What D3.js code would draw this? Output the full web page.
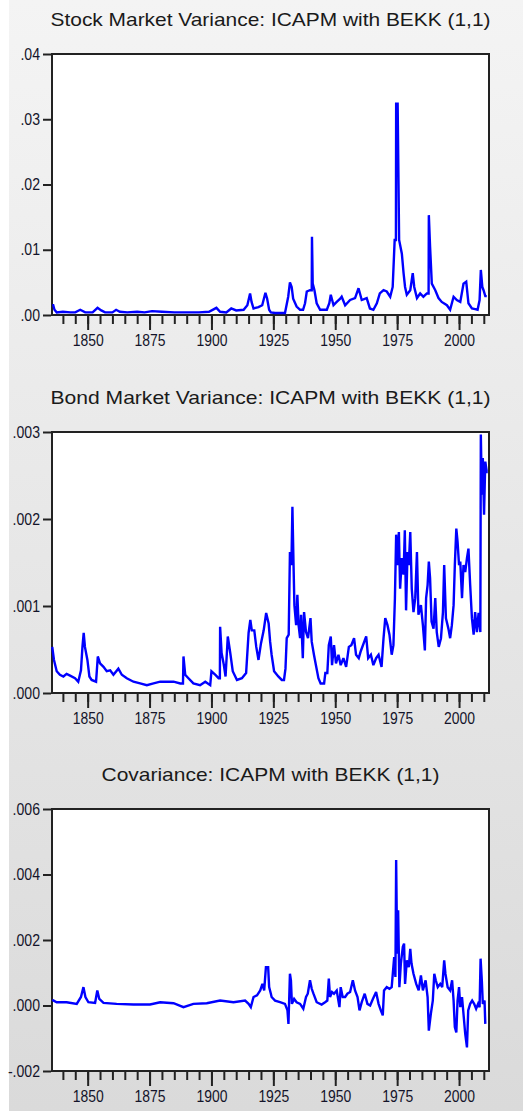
<!DOCTYPE html>
<meta charset="utf-8">
<style>
body { margin: 0; }
.frame { fill: #fff; stroke: #222; stroke-width: 2; }
.axis text { font-family: "Liberation Sans", Arial, sans-serif; font-size: 16px; fill: #14142a; }
.axis line { stroke: #222; stroke-width: 2; }
.title { font-family: "Liberation Sans", Arial, sans-serif; font-size: 19px; fill: #1a1a1a; }
.series { fill: none; stroke: #0000ff; stroke-width: 2.4; stroke-linejoin: miter; stroke-miterlimit: 3; }
</style>
<body>
<svg width="523" height="1111"></svg>
<script src="https://cdn.jsdelivr.net/npm/d3@7"></script>
<script>

// stock market variance
var stockYears = [1835.7,1836.1,1836.6,1837.5,1840,1843,1845,1847,1849,1852,1854,1855.5,1857,1860,1861.5,1863,1866,1870,1873,1876,1880,1885,1890,1895,1899,1902,1903.5,1906,1908,1910,1913,1914.5,1915.6,1916.2,1917,1919,1920.5,1921.8,1922.5,1923.3,1924,1925.7,1927.7,1929.7,1931,1931.7,1932.4,1933,1934.4,1935.8,1937,1937.8,1938.5,1939.8,1940.5,1940.6,1940.9,1941.6,1942.5,1943.9,1945,1946.6,1947.6,1948.2,1949.3,1950.6,1952,1952.6,1954,1956,1958,1959.4,1960.7,1962.7,1964,1965.4,1966.8,1968,1969.5,1970.8,1972.2,1973.2,1974,1974.5,1974.6,1975.2,1975.3,1975.8,1976.9,1977.6,1978.2,1978.9,1980.3,1981.3,1981.9,1983,1984.3,1985.6,1987,1987.7,1987.8,1988.3,1989,1990.4,1991.7,1993,1995.1,1996.4,1997.8,1999.1,2000.5,2001.8,2002.9,2003.8,2005.2,2006.5,2007.5,2008.3,2008.8,2009.4,2009.9,2010.6,2011.2];
var stockVar = [0.0015,0.0015,0.0008,0.0004,0.0005,0.0004,0.0004,0.0008,0.0004,0.0004,0.0011,0.0007,0.0004,0.0004,0.0008,0.0005,0.0004,0.0005,0.0004,0.0006,0.0005,0.0004,0.0004,0.0004,0.0005,0.0011,0.0005,0.0004,0.0010,0.0007,0.0008,0.0015,0.0033,0.0020,0.0010,0.0012,0.0015,0.0034,0.0025,0.0008,0.0004,0.0003,0.0003,0.0003,0.0028,0.0050,0.0043,0.0025,0.0013,0.0008,0.0008,0.0018,0.0036,0.0038,0.0038,0.0120,0.0048,0.0038,0.0018,0.0008,0.0008,0.0008,0.0018,0.0031,0.0015,0.0020,0.0025,0.0028,0.0015,0.0023,0.0026,0.0041,0.0023,0.0026,0.0010,0.0008,0.0018,0.0033,0.0038,0.0036,0.0028,0.0043,0.0115,0.0115,0.0324,0.0324,0.0290,0.0115,0.0094,0.0064,0.0043,0.0031,0.0038,0.0064,0.0043,0.0026,0.0033,0.0028,0.0033,0.0033,0.0153,0.0105,0.0048,0.0038,0.0026,0.0020,0.0015,0.0008,0.0028,0.0023,0.0020,0.0048,0.0051,0.0018,0.0010,0.0009,0.0008,0.0023,0.0069,0.0043,0.0038,0.0029,0.0029];

// bond market variance
var bondYears = [1835.7,1836.4,1837.5,1838.8,1840.2,1841.5,1842.9,1844.9,1846.2,1847.3,1847.9,1848.4,1848.9,1849.9,1850.7,1851.6,1853.4,1854.1,1855,1856.4,1857.7,1859.1,1860.4,1862.4,1863.8,1865.8,1868.5,1871.2,1873.9,1876.6,1879.3,1882,1884.7,1887.4,1888.5,1888.7,1889.4,1890.7,1892.7,1895.4,1897.5,1899.5,1900,1901.5,1902.9,1903.4,1903.5,1904.1,1904.9,1905.7,1906.6,1907.6,1908.6,1910.3,1912.3,1914,1915,1915.7,1916.3,1917.3,1918.1,1919,1920,1921.1,1922.1,1923.1,1923.7,1924.3,1925.3,1927,1928.4,1929.3,1929.9,1930.4,1931.2,1931.7,1932.3,1932.7,1933.1,1933.5,1934.2,1934.7,1935.2,1935.8,1936.2,1936.9,1937.4,1938.2,1939,1940,1940.5,1941.4,1942.2,1943.2,1944.1,1945.5,1946,1946.8,1947.4,1948.2,1948.7,1949.5,1950.3,1951.3,1952.2,1953.3,1954.4,1955.5,1956.5,1957.6,1958.4,1959.5,1960.3,1962.5,1963.3,1964.4,1965.4,1966.5,1967.5,1968.7,1969.5,1970.2,1971.1,1971.9,1972.8,1973.5,1974.1,1974.6,1975.1,1975.7,1976.2,1976.9,1977.6,1978.1,1978.6,1979.2,1979.7,1980.3,1980.9,1981.6,1982.3,1983,1983.6,1984.6,1985.4,1986.2,1986.7,1987.3,1987.8,1988.3,1988.9,1989.7,1990.4,1991,1991.8,1992.7,1993.5,1994,1994.7,1995.7,1996.4,1997.1,1997.8,1998.3,1998.9,1999.4,2000,2000.5,2001.2,2001.8,2002.5,2003.2,2003.8,2004.5,2005.2,2005.9,2006.5,2007.2,2007.9,2008.6,2008.8,2009.2,2009.6,2010.1,2010.6,2011.2,2011.6];
var bondVar = [0.00053,0.00038,0.00025,0.00021,0.00019,0.00022,0.00020,0.00017,0.00013,0.00026,0.00053,0.00069,0.00053,0.00038,0.00019,0.00015,0.00013,0.00042,0.00034,0.00030,0.00025,0.00026,0.00021,0.00028,0.00021,0.00017,0.00013,0.00011,0.00009,0.00011,0.00013,0.00013,0.00013,0.00011,0.00011,0.00042,0.00021,0.00017,0.00011,0.00009,0.00013,0.00009,0.00025,0.00021,0.00017,0.00017,0.00076,0.00046,0.00034,0.00019,0.00065,0.00046,0.00025,0.00015,0.00017,0.00023,0.00069,0.00084,0.00072,0.00072,0.00053,0.00038,0.00057,0.00072,0.00092,0.00080,0.00059,0.00044,0.00025,0.00019,0.00015,0.00015,0.00028,0.00063,0.00067,0.00162,0.00147,0.00214,0.00155,0.00101,0.00078,0.00113,0.00078,0.00063,0.00090,0.00040,0.00093,0.00070,0.00063,0.00086,0.00059,0.00044,0.00032,0.00017,0.00011,0.00011,0.00023,0.00023,0.00055,0.00065,0.00032,0.00055,0.00034,0.00044,0.00032,0.00040,0.00030,0.00053,0.00055,0.00063,0.00044,0.00040,0.00048,0.00065,0.00040,0.00044,0.00032,0.00040,0.00044,0.00030,0.00063,0.00086,0.00078,0.00067,0.00044,0.00055,0.00109,0.00182,0.00147,0.00185,0.00120,0.00155,0.00136,0.00187,0.00095,0.00162,0.00147,0.00185,0.00120,0.00093,0.00109,0.00162,0.00090,0.00101,0.00078,0.00049,0.00109,0.00124,0.00151,0.00132,0.00082,0.00074,0.00109,0.00070,0.00053,0.00063,0.00093,0.00147,0.00086,0.00074,0.00063,0.00078,0.00101,0.00147,0.00189,0.00174,0.00147,0.00151,0.00109,0.00147,0.00139,0.00155,0.00166,0.00124,0.00086,0.00067,0.00093,0.00070,0.00092,0.00070,0.00297,0.00228,0.00270,0.00205,0.00266,0.00254,0.00254];

// covariance
var covYears = [1835.7,1837.5,1841.5,1845.6,1847.3,1848.3,1849.1,1850.3,1853,1853.9,1854.7,1856.4,1861.7,1868.5,1875.2,1879.3,1884.7,1888.7,1892.7,1898.1,1903.5,1908.9,1913.6,1915,1915.9,1917,1918.4,1919.7,1920.6,1921.3,1922,1922.9,1923.3,1924,1924.3,1925.7,1927.7,1929.7,1930.7,1931.1,1931.7,1932.1,1932.5,1933.4,1934.4,1935.8,1937.1,1938.2,1938.9,1939.8,1940.5,1941.2,1942.5,1944.5,1945.9,1946.8,1947.4,1947.9,1948.7,1949.5,1950.6,1951.7,1952.2,1953,1954,1954.9,1956,1957.1,1958,1959,1959.8,1960.7,1961.9,1963,1964.1,1965.2,1966.5,1967.5,1968.4,1969.2,1969.7,1970.8,1971.9,1972.8,1973.8,1974.3,1974.6,1975,1975.4,1975.9,1976.5,1977.3,1977.8,1978.2,1978.9,1979.7,1980.3,1980.8,1981.6,1982.7,1983.7,1984.6,1985.4,1986.5,1987.3,1987.8,1988.6,1989.4,1990,1990.6,1991.4,1992.4,1993.2,1994,1994.5,1995.4,1996.4,1997.2,1997.8,1998.3,1998.9,1999.4,2000,2000.5,2001.2,2001.8,2002.5,2003.2,2003.7,2004.5,2005.3,2006.1,2006.9,2007.7,2008.3,2008.7,2009.2,2009.6,2010.3,2010.6];
var covVals = [0.00017,0.00010,0.00010,0.00005,0.00026,0.00056,0.00026,0.00010,0.00008,0.00046,0.00020,0.00008,0.00005,0.00003,0.00003,0.00010,0.00007,-0.00005,0.00005,0.00007,0.00015,0.00010,0.00015,0.00005,-0.00005,0.00026,0.00031,0.00046,0.00066,0.00046,0.00117,0.00117,0.00056,0.00036,0.00026,0.00015,0.00010,0.00005,-0.00015,-0.00056,0.00097,0.00077,0.00005,0.00020,0.00010,0.00005,-0.00010,0.00026,0.00036,0.00077,0.00051,0.00036,0.00010,0.00003,0.00010,0.00015,0.00082,0.00026,0.00041,0.00036,0.00046,-0.00005,0.00056,0.00026,0.00026,0.00036,0.00041,0.00077,0.00046,0.00026,-0.00015,0.00010,0.00036,0.00005,0.00000,0.00020,0.00041,0.00005,-0.00015,-0.00030,0.00046,0.00056,0.00051,0.00056,0.00148,0.00087,0.00444,0.00158,0.00291,0.00056,0.00128,0.00179,0.00189,0.00066,0.00138,0.00117,0.00173,0.00128,0.00097,0.00066,0.00046,0.00092,0.00046,0.00077,0.00026,-0.00077,-0.00026,0.00015,0.00097,0.00077,0.00056,0.00066,0.00056,0.00138,0.00097,0.00056,0.00046,0.00077,0.00015,-0.00066,-0.00082,0.00015,0.00056,-0.00005,0.00026,-0.00026,-0.00087,-0.00128,-0.00015,0.00005,0.00015,0.00005,-0.00010,0.00005,-0.00005,0.00143,0.00077,0.00005,0.00015,-0.00056];

var panels = [
  { title: "Stock Market Variance: ICAPM with BEKK (1,1)", years: stockYears, vals: stockVar,
    top: 54, bottom: 315, titleY: 26, domain: [0, 0.04], ticks: [0, 0.01, 0.02, 0.03, 0.04], digits: 2 },
  { title: "Bond Market Variance: ICAPM with BEKK (1,1)", years: bondYears, vals: bondVar,
    top: 432, bottom: 693, titleY: 404, domain: [0, 0.003], ticks: [0, 0.001, 0.002, 0.003], digits: 3 },
  { title: "Covariance: ICAPM with BEKK (1,1)", years: covYears, vals: covVals,
    top: 809, bottom: 1071, titleY: 781, domain: [-0.002, 0.006], ticks: [-0.002, 0, 0.002, 0.004, 0.006], digits: 3 }
];

var svg = d3.select("svg"),
    width = +svg.attr("width"),
    height = +svg.attr("height");

var left = 52, right = 489;

var grad = svg.append("defs").append("linearGradient")
    .attr("id", "bg").attr("x1", 0).attr("y1", 0).attr("x2", 0).attr("y2", 1);
grad.append("stop").attr("offset", 0).attr("stop-color", "#f4f4f4");
grad.append("stop").attr("offset", 1).attr("stop-color", "#dadada");

svg.append("rect").attr("width", width).attr("height", height).attr("fill", "#fff");
svg.append("rect").attr("x", 9).attr("width", width - 9).attr("height", height).attr("fill", "url(#bg)");

var x = d3.scaleLinear()
    .domain([1835.6, 2012.1])
    .range([left, right]);

var minorYears = d3.range(1840, 2011, 5);
var majorYears = [1850, 1875, 1900, 1925, 1950, 1975, 2000];

// squeeze the labels a bit, the original font is narrow
function narrow(sel, k) {
  sel.each(function() {
    var w = this.getComputedTextLength();
    d3.select(this).attr("textLength", w * k).attr("lengthAdjust", "spacingAndGlyphs");
  });
}

panels.forEach(function(p) {
  var y = d3.scaleLinear().domain(p.domain).range([p.bottom, p.top]);
  var g = svg.append("g");

  g.append("text")
      .attr("class", "title")
      .attr("x", (left + right) / 2)
      .attr("y", p.titleY)
      .attr("text-anchor", "middle")
      .attr("textLength", p === panels[2] ? 338 : 440)
      .attr("lengthAdjust", "spacingAndGlyphs")
      .text(p.title);

  g.append("rect")
      .attr("class", "frame")
      .attr("x", left).attr("y", p.top)
      .attr("width", right - left).attr("height", p.bottom - p.top);

  var line = d3.line()
      .x(function(d, i) { return x(p.years[i]); })
      .y(function(d) { return y(d); });

  g.append("path")
      .datum(p.vals)
      .attr("class", "series")
      .attr("d", line);

  // minor year ticks
  var minor = g.append("g")
      .attr("class", "axis")
      .attr("transform", "translate(0," + (p.bottom + 1) + ")")
      .call(d3.axisBottom(x).tickValues(minorYears).tickSize(8).tickFormat(""));
  minor.select(".domain").remove();

  var major = g.append("g")
      .attr("class", "axis")
      .attr("transform", "translate(0," + (p.bottom + 1) + ")")
      .call(d3.axisBottom(x).tickValues(majorYears).tickSize(14).tickPadding(5).tickFormat(d3.format("d")));
  major.select(".domain").remove();
  major.selectAll("text").attr("font-family", null).attr("font-size", null).call(narrow, 0.87);

  var yAxis = g.append("g")
      .attr("class", "axis")
      .attr("transform", "translate(" + (left - 1) + ",0)")
      .call(d3.axisLeft(y).tickValues(p.ticks).tickSize(8).tickPadding(3)
        .tickFormat(function(d) {
          var s = Math.abs(d).toFixed(p.digits).replace(/^0/, "");
          return (d < 0 ? "-" : "") + s;
        }));
  yAxis.select(".domain").remove();
  yAxis.selectAll("text").attr("font-family", null).attr("font-size", null).call(narrow, 0.88);
});

</script>
</body>
